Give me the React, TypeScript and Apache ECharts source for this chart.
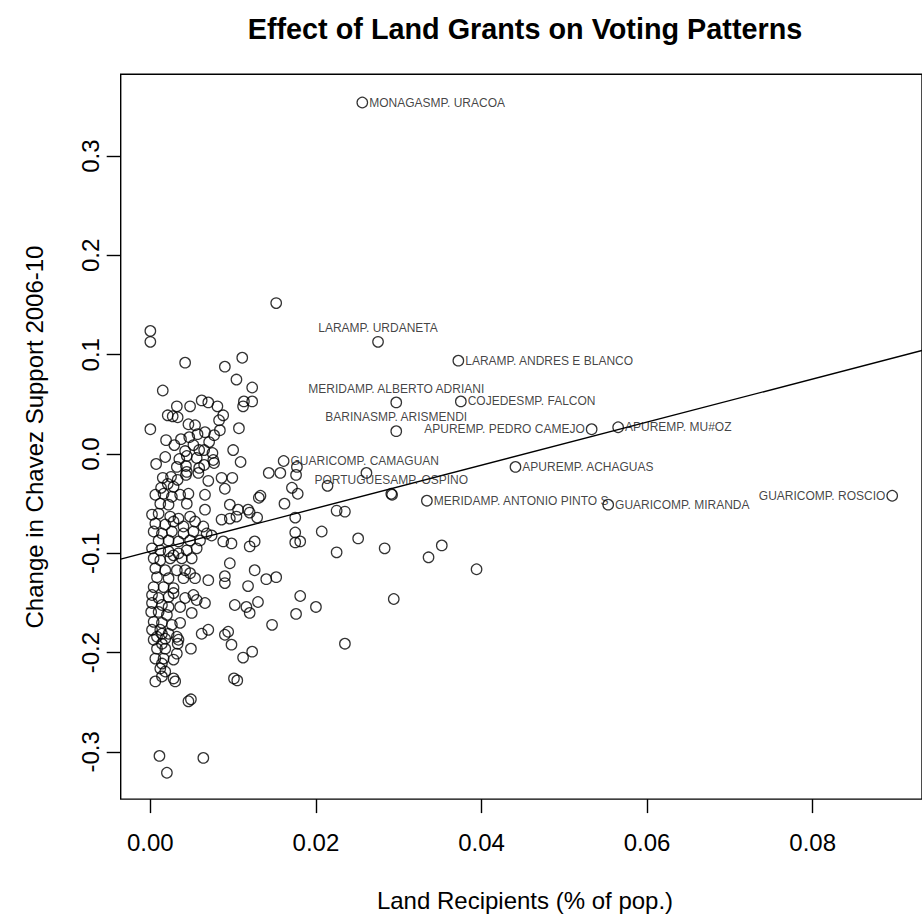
import { useEffect, useRef } from "react";
import * as echarts from "echarts";

// Land recipients (share of population) vs change in Chavez support
const municipalityPoints: [number, number][] = [
  [0.0, 0.124], [0.0, 0.113], [0.0042, 0.092], [0.009, 0.088], [0.0111, 0.097], [0.0104, 0.075], [0.0152, 0.152],
  [0.0123, 0.067], [0.0015, 0.064], [0.0062, 0.054], [0.007, 0.052], [0.0081, 0.048], [0.0048, 0.048], [0.0032, 0.048],
  [0.0113, 0.053], [0.0123, 0.053], [0.0112, 0.048], [0.0021, 0.039], [0.0027, 0.038], [0.0033, 0.037], [0.0088, 0.039],
  [0.0083, 0.034], [0.0, 0.025], [0.0046, 0.03], [0.0054, 0.029], [0.0084, 0.024], [0.0107, 0.026], [0.0066, 0.022],
  [0.0077, 0.019], [0.0057, 0.02], [0.0047, 0.017], [0.0037, 0.015], [0.0019, 0.014], [0.0029, 0.009], [0.0052, 0.009],
  [0.0071, 0.012], [0.0042, 0.003], [0.0059, 0.004], [0.0065, 0.004], [0.0075, 0.001], [0.01, 0.004], [0.0018, -0.003],
  [0.0035, -0.005], [0.0044, -0.002], [0.0056, -0.004], [0.0076, -0.006], [0.0109, -0.008], [0.0007, -0.01],
  [0.0032, -0.013], [0.0043, -0.012], [0.0044, -0.018], [0.0065, -0.011], [0.0059, -0.014], [0.0077, -0.009],
  [0.0015, -0.024], [0.0025, -0.023], [0.0021, -0.03], [0.0033, -0.026], [0.0043, -0.021], [0.0058, -0.019],
  [0.007, -0.027], [0.0086, -0.024], [0.0099, -0.024], [0.0013, -0.034],
  [0.0143, -0.019], [0.0157, -0.019], [0.0177, -0.013], [0.0176, -0.021], [0.0261, -0.019],
  [0.009, -0.035], [0.0028, -0.033], [0.0006, -0.041], [0.0016, -0.04], [0.0026, -0.043], [0.0036, -0.041],
  [0.0046, -0.04], [0.0066, -0.041], [0.0044, -0.05], [0.0022, -0.051], [0.0012, -0.05], [0.0066, -0.056],
  [0.0096, -0.051], [0.0106, -0.056], [0.0118, -0.056], [0.0086, -0.066], [0.0096, -0.065], [0.0104, -0.063],
  [0.0002, -0.061], [0.001, -0.06], [0.0024, -0.063], [0.0034, -0.065], [0.0048, -0.063], [0.0054, -0.068],
  [0.0006, -0.07], [0.0018, -0.071], [0.0028, -0.068], [0.004, -0.073], [0.0064, -0.073], [0.0004, -0.078],
  [0.0014, -0.08], [0.0026, -0.078], [0.004, -0.08], [0.0052, -0.078], [0.0068, -0.08], [0.0074, -0.082],
  [0.001, -0.087], [0.0022, -0.087], [0.0034, -0.088], [0.0048, -0.087], [0.006, -0.087], [0.0088, -0.088],
  [0.0098, -0.09], [0.012, -0.093], [0.0126, -0.088], [0.0002, -0.095], [0.0012, -0.097], [0.0022, -0.098],
  [0.0028, -0.102], [0.0034, -0.1], [0.0044, -0.097], [0.0056, -0.095], [0.0004, -0.105], [0.0012, -0.107],
  [0.0024, -0.105], [0.0038, -0.105], [0.005, -0.105], [0.0096, -0.11], [0.0126, -0.117], [0.0006, -0.115],
  [0.0018, -0.117], [0.0032, -0.117], [0.0042, -0.117], [0.0048, -0.12], [0.0054, -0.125], [0.007, -0.127],
  [0.009, -0.123], [0.009, -0.13], [0.0118, -0.133], [0.0008, -0.124], [0.0022, -0.125], [0.004, -0.125],
  [0.0004, -0.134], [0.0016, -0.134], [0.0028, -0.135], [0.0002, -0.142], [0.001, -0.145], [0.0022, -0.144],
  [0.0028, -0.14], [0.0042, -0.145], [0.0052, -0.142], [0.0056, -0.147], [0.0066, -0.15], [0.0102, -0.152],
  [0.0116, -0.154], [0.012, -0.16], [0.0002, -0.15], [0.0014, -0.152], [0.0022, -0.154], [0.0036, -0.154],
  [0.005, -0.16], [0.001, -0.159], [0.002, -0.162], [0.0004, -0.169], [0.0014, -0.17], [0.0026, -0.172],
  [0.0036, -0.17], [0.0002, -0.177], [0.0012, -0.177], [0.0022, -0.181], [0.0062, -0.181], [0.007, -0.177],
  [0.009, -0.182], [0.0094, -0.179], [0.0008, -0.184], [0.0018, -0.186], [0.0032, -0.184],
  [0.0214, -0.032], [0.0171, -0.034], [0.0178, -0.04], [0.0131, -0.044], [0.0133, -0.042], [0.0162, -0.05],
  [0.012, -0.059], [0.0129, -0.064], [0.0175, -0.064], [0.0225, -0.057], [0.0235, -0.058], [0.0175, -0.079],
  [0.0207, -0.078], [0.0251, -0.085], [0.0175, -0.089], [0.0181, -0.088], [0.0225, -0.099], [0.0283, -0.095],
  [0.0336, -0.104], [0.0352, -0.092], [0.0394, -0.116], [0.014, -0.126], [0.0152, -0.124], [0.0181, -0.143],
  [0.0294, -0.146], [0.013, -0.149], [0.0176, -0.161], [0.02, -0.154], [0.0147, -0.172], [0.0235, -0.191],
  [0.0112, -0.205], [0.0123, -0.199], [0.0101, -0.226], [0.0105, -0.228], [0.0292, -0.041],
  [0.0014, -0.181], [0.0034, -0.187], [0.0098, -0.192], [0.0004, -0.187], [0.0014, -0.191], [0.0008, -0.196],
  [0.0018, -0.196], [0.0032, -0.201], [0.0049, -0.196], [0.0006, -0.206], [0.0016, -0.206], [0.0028, -0.207],
  [0.0014, -0.211], [0.0012, -0.216], [0.0018, -0.219], [0.0006, -0.229], [0.0014, -0.224], [0.0028, -0.226],
  [0.003, -0.229], [0.0046, -0.249], [0.0049, -0.247], [0.0011, -0.304], [0.0064, -0.306], [0.002, -0.321],
  [0.0033, -0.191], [0.0001, -0.159],
];

const labelNames = [
  "MONAGASMP. URACOA", "LARAMP. URDANETA", "LARAMP. ANDRES E BLANCO", "MERIDAMP. ALBERTO ADRIANI",
  "COJEDESMP. FALCON", "BARINASMP. ARISMENDI", "APUREMP. PEDRO CAMEJO", "APUREMP. MU#OZ",
  "GUARICOMP. CAMAGUAN", "PORTUGUESAMP. OSPINO", "APUREMP. ACHAGUAS", "MERIDAMP. ANTONIO PINTO S",
  "GUARICOMP. MIRANDA", "GUARICOMP. ROSCIO",
];
const labelX = [0.0256, 0.0275, 0.0372, 0.0297, 0.0375, 0.0297, 0.0533, 0.0565, 0.0161, 0.0291, 0.0441, 0.0334, 0.0553, 0.0896];
const labelY = [0.354, 0.113, 0.094, 0.052, 0.053, 0.023, 0.025, 0.027, -0.007, -0.04, -0.013, -0.047, -0.051, -0.042];
const labelSide = ["right", "top", "right", "top", "right", "top", "left", "right", "right", "top", "right", "right", "right", "left"];

const xTicks = [0, 0.02, 0.04, 0.06, 0.08];
const yTicks = [-0.3, -0.2, -0.1, 0, 0.1, 0.2, 0.3];
const xRange = [-0.00358, 0.0932];
const yRange = [-0.3475, 0.3825];
const fitIntercept = -0.098;
const fitSlope = 2.17;

const FONT = '"Liberation Sans", Arial, Helvetica, sans-serif';

export default function App() {
  const ref = useRef<HTMLDivElement>(null);
  useEffect(() => {
    const chart = echarts.init(ref.current!, null, { renderer: "svg" });
    const circleStyle = { color: "rgba(0,0,0,0)", borderColor: "#000", borderWidth: 1.25 };
    chart.setOption({
      animation: false,
      backgroundColor: "#fff",
      grid: { left: 120.7, top: 74.2, right: -7.8, bottom: 115.9, show: true, borderColor: "#000", borderWidth: 1.4, containLabel: false },
      xAxis: {
        type: "value", min: xRange[0], max: xRange[1], position: "bottom",
        axisLine: { show: false, onZero: false }, splitLine: { show: false },
        axisTick: { show: true, inside: false, length: 14, customValues: xTicks, lineStyle: { color: "#000", width: 1.4 } },
        axisLabel: { customValues: xTicks, formatter: (v: number) => v.toFixed(2), margin: 31, fontSize: 24, color: "#000", fontFamily: FONT },
      },
      yAxis: {
        type: "value", min: yRange[0], max: yRange[1], position: "left",
        axisLine: { show: false, onZero: false }, splitLine: { show: false },
        axisTick: { show: true, inside: false, length: 14, customValues: yTicks, lineStyle: { color: "#000", width: 1.4 } },
        axisLabel: { customValues: yTicks, formatter: (v: number) => v.toFixed(1), rotate: 90, margin: 18, fontSize: 24, color: "#000", fontFamily: FONT },
      },
      graphic: [
        { type: "text", x: 525, y: 29, style: { text: "Effect of Land Grants on Voting Patterns", font: `bold 28.8px ${FONT}`, fill: "#000", textAlign: "center", textVerticalAlign: "middle" } },
        { type: "text", x: 525, y: 900, style: { text: "Land Recipients (% of pop.)", font: `24px ${FONT}`, fill: "#000", textAlign: "center", textVerticalAlign: "middle" } },
        { type: "text", x: 34, y: 437, rotation: Math.PI / 2, style: { text: "Change in Chavez Support 2006-10", font: `24px ${FONT}`, fill: "#000", textAlign: "center", textVerticalAlign: "middle" } },
      ],
      series: [
        {
          type: "line", data: [[xRange[0], fitIntercept + fitSlope * xRange[0]], [xRange[1], fitIntercept + fitSlope * xRange[1]]],
          symbol: "none", clip: true, silent: true, lineStyle: { color: "#000", width: 1.4 }, z: 1,
        },
        { type: "scatter", data: municipalityPoints, symbol: "circle", symbolSize: 10.5, itemStyle: circleStyle, silent: true, z: 2 },
        {
          type: "scatter", symbol: "circle", symbolSize: 10.5, itemStyle: circleStyle, silent: true, z: 3,
          data: labelNames.map((name, i) => ({
            value: [labelX[i], labelY[i]],
            label: { show: true, position: labelSide[i], distance: labelSide[i] === "top" ? 2 : 1, formatter: name, fontSize: 12, color: "#111", fontFamily: FONT },
          })),
        },
      ],
    });
    return () => chart.dispose();
  }, []);
  return <div ref={ref} style={{ position: "fixed", left: 0, top: 0, width: 922, height: 915, background: "#fff" }} />;
}
